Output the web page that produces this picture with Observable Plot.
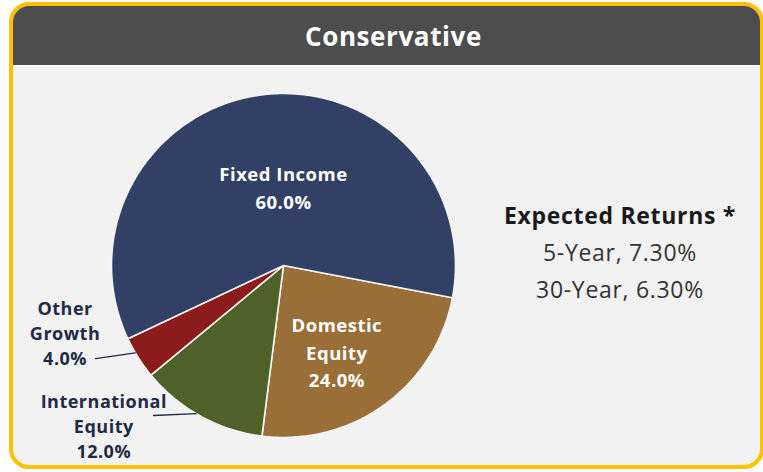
<!DOCTYPE html>
<html>
<head>
<meta charset="utf-8">
<script src="https://cdn.jsdelivr.net/npm/d3@7"></script>
<script src="https://cdn.jsdelivr.net/npm/@observablehq/plot@0.6"></script>
<style>
  html, body { margin: 0; padding: 0; background: #ffffff; width: 763px; height: 472px; overflow: hidden; font-family: "Open Sans", sans-serif; }
  #panel { position: absolute; left: 9px; top: 2px; width: 747px; height: 459px; border: 4px solid #FFC000; border-radius: 20px; background: #F2F2F2; overflow: hidden; }
  #header { height: 59px; background: #4D4D4D; color: #ffffff; font-weight: 700; font-size: 26px; letter-spacing: 0.6px; text-align: center; line-height: 60px; overflow: hidden; border-bottom: 2px solid #FAFAFA; padding-left: 14px; }
  #chart { position: absolute; left: 0; top: 0; z-index: 2; }
  #returns { position: absolute; left: 470px; top: 197px; width: 300px; text-align: center; z-index: 3; font-size: 23px; letter-spacing: 0.7px; line-height: 37px; color: #333333; }
  #returns .head { font-weight: 700; color: #1a1a1a; }
</style>
</head>
<body>
<div id="panel"><div id="header"></div></div>
<div id="chart"></div>
<div id="returns"></div>
<script>
// ---- data ----
const panelTitle = "Conservative";
const categories = ["Domestic Equity", "International Equity", "Other Growth", "Fixed Income"];
const labelLines = [["Domestic", "Equity"], ["International", "Equity"], ["Other", "Growth"], ["Fixed Income"]];
const shares = [24.0, 12.0, 4.0, 60.0];
const colors = ["#996F37", "#4E6129", "#8C1C1C", "#334066"];
const returnsTitle = "Expected Returns *";
const returnLabels = ["5-Year", "30-Year"];
const returnValues = [7.30, 6.30];

// ---- layout ----
const R = 172, CX = 283, CY = 265;
const START = 100.8 * Math.PI / 180;
const labelPos = {            // radius units from centre, up positive
  "Domestic Equity": [0.31, -0.495],
  "International Equity": [-1.045, -0.93],
  "Other Growth": [-1.27, -0.385],
  "Fixed Income": [0, 0.46]
};
const inside = {"Domestic Equity": true, "Fixed Income": true};
const leaders = [
  {cat: "Other Growth", angle: 239.5, from: [-1.093, -0.541]},
  {cat: "International Equity", angle: 210.5, from: [-0.756, -0.872]}
];

document.getElementById("header").textContent = panelTitle;
const ret = document.getElementById("returns");
const h = document.createElement("div"); h.className = "head"; h.textContent = returnsTitle; ret.appendChild(h);
returnLabels.forEach((l, i) => {
  const d = document.createElement("div");
  d.textContent = `${l}, ${returnValues[i].toFixed(2)}%`;
  ret.appendChild(d);
});

const table = categories.map((c, i) => ({category: c, share: shares[i], color: colors[i], lines: labelLines[i]}));
const arcs = d3.pie().value(d => d.share).sort(null).startAngle(START).endAngle(START + 2 * Math.PI)(table);

const pt = a => [Math.sin(a), Math.cos(a)];
const slices = arcs.map(a => {
  const n = Math.max(8, Math.ceil((a.endAngle - a.startAngle) / (Math.PI / 180)));
  const ring = [[0, 0]];
  for (let k = 0; k <= n; k++) ring.push(pt(a.startAngle + (a.endAngle - a.startAngle) * k / n));
  ring.push([0, 0]);
  return {type: "Feature", properties: {color: a.data.color, category: a.data.category}, geometry: {type: "Polygon", coordinates: [ring]}};
});

const labels = table.map(d => ({
  x: labelPos[d.category][0],
  y: labelPos[d.category][1],
  text: d.lines.join("\n") + "\n" + d.share.toFixed(1) + "%",
  inside: !!inside[d.category]
}));

const leaderLines = leaders.map(l => {
  const a = l.angle * Math.PI / 180;
  return {type: "Feature", properties: {}, geometry: {type: "LineString", coordinates: [l.from, pt(a)]}};
});

const chart = Plot.plot({
  width: 763,
  height: 472,
  margin: 0,
  projection: d3.geoIdentity().reflectY(true).scale(R).translate([CX, CY]),
  style: {background: "transparent", overflow: "visible"},
  marks: [
    Plot.geo(slices, {fill: d => d.properties.color, stroke: "#F4F4F4", strokeWidth: 1.6, strokeLinejoin: "round"}),
    Plot.geo(leaderLines, {stroke: "#222B45", strokeWidth: 1.3}),
    Plot.text(labels.filter(d => d.inside), {x: "x", y: "y", text: "text", fill: "#ffffff", fontSize: 18.5, fontWeight: 700, lineHeight: 1.51, textAnchor: "middle", lineAnchor: "middle", fontFamily: "Open Sans"}),
    Plot.text(labels.filter(d => !d.inside), {x: "x", y: "y", text: "text", fill: "#222B45", fontSize: 18, fontWeight: 700, lineHeight: 1.39, textAnchor: "middle", lineAnchor: "middle", fontFamily: "Open Sans"})
  ]
});
d3.select(chart).selectAll("text").attr("letter-spacing", "0.5px");
document.getElementById("chart").appendChild(chart);
</script>
</body>
</html>
